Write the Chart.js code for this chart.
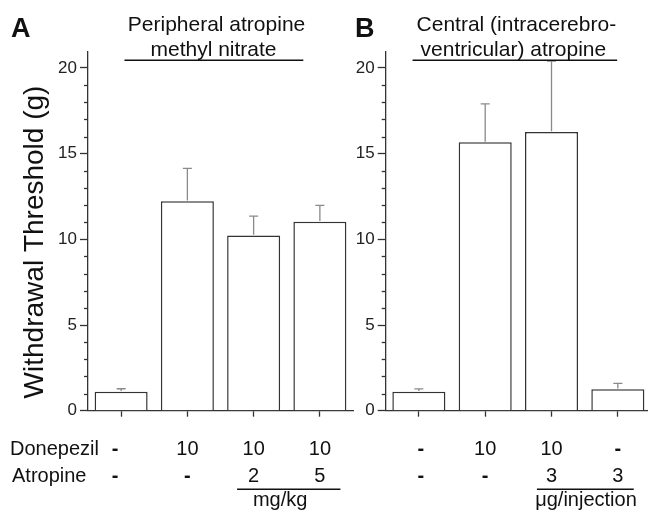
<!DOCTYPE html>
<html><head><meta charset="utf-8">
<script src="https://cdn.jsdelivr.net/npm/chart.js@4"></script>
<style>
html,body{margin:0;padding:0;background:#fff;overflow:hidden;width:648px;height:510px;position:relative;}
canvas{position:absolute;left:0;top:0;}
</style></head><body>
<canvas id="chartA" width="648" height="510"></canvas>
<canvas id="chartB" width="660" height="510"></canvas>
<script>
// ---- data ----
const categoriesA = ['Vehicle', 'Donepezil 10', 'Donepezil 10 + Atropine 2', 'Donepezil 10 + Atropine 5'];
const meansA = [1.11, 12.23, 10.23, 11.03];
const errorsA = [0.17, 1.91, 1.13, 0.95];
const donepezilA = ['-', '10', '10', '10'];
const atropineA = ['-', '-', '2', '5'];

const categoriesB = ['Vehicle', 'Donepezil 10', 'Donepezil 10 + Atropine 3', 'Atropine 3'];
const meansB = [1.11, 15.66, 16.26, 1.25];
const errorsB = [0.16, 2.25, 4.14, 0.35];
const donepezilB = ['-', '10', '10', '-'];
const atropineB = ['-', '-', '3', '3'];

const yMajorTicks = [0, 5, 10, 15, 20];
const yMax = 20.95;
const yTitle = 'Withdrawal Threshold (g)';
const rowNames = ['Donepezil', 'Atropine'];
const titleA = ['Peripheral atropine', 'methyl nitrate'];
const titleB = ['Central (intracerebro-', 'ventricular) atropine'];
const unitA = 'mg/kg';
const unitB = '\u03bcg/injection';

// ---- drawing ----
Chart.defaults.devicePixelRatio = 1;
const FONT = "'Liberation Sans', Arial, Helvetica, sans-serif";
const AXIS = '#333';

const panelPlugin = {
  id: 'panel',
  afterDatasetsDraw(chart, args, o) {
    const ctx = chart.ctx, y = chart.scales.y;
    const meta = chart.getDatasetMeta(0);
    const vals = chart.data.datasets[0].data;
    ctx.save();
    ctx.strokeStyle = '#8a8a8a';
    ctx.lineWidth = 1.3;
    meta.data.forEach((bar, i) => {
      const yTop = y.getPixelForValue(vals[i]);
      const yErr = y.getPixelForValue(vals[i] + o.errors[i]);
      ctx.beginPath();
      ctx.moveTo(bar.x, yTop - 0.7); ctx.lineTo(bar.x, yErr);
      ctx.moveTo(bar.x - 4.5, yErr); ctx.lineTo(bar.x + 4.5, yErr);
      ctx.stroke();
    });
    ctx.restore();
  },
  afterDraw(chart, args, o) {
    const ctx = chart.ctx, x = chart.scales.x, y = chart.scales.y, ca = chart.chartArea;
    ctx.save();
    // minor y ticks
    ctx.strokeStyle = AXIS; ctx.lineWidth = 1.3;
    y.ticks.forEach(t => {
      if (!yMajorTicks.includes(t.value)) {
        const py = Math.round(y.getPixelForValue(t.value)) + 0.5;
        ctx.beginPath(); ctx.moveTo(ca.left - 4, py); ctx.lineTo(ca.left, py); ctx.stroke();
      }
    });
    ctx.fillStyle = '#111';
    ctx.textBaseline = 'alphabetic';
    // panel letter
    ctx.font = 'bold 27px ' + FONT;
    ctx.textAlign = 'left';
    ctx.fillText(o.letter, o.letterX, 37);
    // title
    ctx.font = '21px ' + FONT;
    ctx.textAlign = 'center';
    const tc = x.getPixelForValue(o.titleCenter);
    ctx.fillText(o.title[0], tc, ca.top - 21);
    ctx.fillText(o.title[1], tc - 3, ca.top + 3.8);
    ctx.lineWidth = 1.6; ctx.strokeStyle = '#111';
    ctx.beginPath();
    ctx.moveTo(x.getPixelForValue(o.titleLine[0]), ca.top + 8.5);
    ctx.lineTo(x.getPixelForValue(o.titleLine[1]), ca.top + 8.5);
    ctx.stroke();
    // row labels
    const rowY = [ca.bottom + 44.5, ca.bottom + 71];
    if (o.rowNames) {
      ctx.font = '20px ' + FONT;
      ctx.textAlign = 'left';
      ctx.fillText(rowNames[0], 10, rowY[0]);
      ctx.fillText(rowNames[1], 12, rowY[1]);
    }
    ctx.textAlign = 'center';
    [o.row1, o.row2].forEach((row, r) => {
      row.forEach((lab, i) => {
        const px = x.getPixelForValue(i) + (o.shifts[i] || 0);
        ctx.font = (lab === '-' ? 'bold ' : '') + '20px ' + FONT;
        ctx.fillText(lab, px, rowY[r]);
      });
    });
    // unit underline and text
    ctx.lineWidth = 1.4;
    ctx.beginPath();
    ctx.moveTo(x.getPixelForValue(o.unitLine[0]), ca.bottom + 78.5);
    ctx.lineTo(x.getPixelForValue(o.unitLine[1]), ca.bottom + 78.5);
    ctx.stroke();
    ctx.font = '20px ' + FONT;
    ctx.fillText(o.unit, x.getPixelForValue(o.unitCenter), ca.bottom + 95.5);
    // y title
    if (o.yTitle) {
      ctx.save();
      ctx.translate(43, 242);
      ctx.rotate(-Math.PI / 2);
      ctx.font = '28px ' + FONT;
      ctx.textAlign = 'center';
      ctx.fillText(yTitle, 0, 0);
      ctx.restore();
    }
    ctx.restore();
  }
};

function makeChart(id, cats, means, padLeft, padRight, panelOpts) {
  return new Chart(document.getElementById(id), {
    type: 'bar',
    data: {
      labels: cats,
      datasets: [{
        data: means,
        backgroundColor: '#ffffff',
        borderColor: AXIS,
        borderWidth: 1.5,
        categoryPercentage: 1.0,
        barPercentage: 0.8
      }]
    },
    options: {
      responsive: false,
      animation: false,
      devicePixelRatio: 1,
      layout: { padding: { left: padLeft, right: padRight, top: 51.7, bottom: 0 } },
      plugins: { legend: { display: false }, tooltip: { enabled: false }, title: { display: false }, panel: panelOpts },
      scales: {
        x: {
          offset: true,
          grid: { offset: false, drawOnChartArea: false, drawTicks: true, tickLength: 6, tickColor: AXIS, tickWidth: 1.3 },
          border: { color: AXIS, width: 1.3 },
          ticks: { display: false },
          afterFit: s => { s.height = 510 - 410.7; }
        },
        y: {
          min: 0, max: yMax,
          grid: {
            drawOnChartArea: false, drawTicks: true, tickLength: 8, tickWidth: 1.3,
            tickColor: c => yMajorTicks.includes(c.tick.value) ? AXIS : 'rgba(0,0,0,0)'
          },
          border: { color: AXIS, width: 1.3 },
          ticks: {
            stepSize: 1, includeBounds: false, maxTicksLimit: 40, autoSkip: false, padding: 3, color: '#222',
            font: { family: FONT, size: 17 },
            callback: v => yMajorTicks.includes(v) ? String(v) : ''
          },
          afterFit: s => { s.width = 88; }
        }
      }
    },
    plugins: [panelPlugin]
  });
}

makeChart('chartA', categoriesA, meansA, 0, 648 - 353, {
  errors: errorsA, letter: 'A', letterX: 11, title: titleA, titleCenter: 1.44, titleLine: [0.05, 2.75],
  rowNames: true, row1: donepezilA, row2: atropineA, shifts: [-6, 0, 0, 0],
  unit: unitA, unitLine: [1.75, 3.31], unitCenter: 2.40, yTitle: true
});
makeChart('chartB', categoriesB, meansB, 385.7 - 88, 660 - 651, {
  errors: errorsB, letter: 'B', letterX: 355, title: titleB, titleCenter: 1.47, titleLine: [-0.095, 2.99],
  rowNames: false, row1: donepezilB, row2: atropineB, shifts: [2, 0, 0, 0],
  unit: unitB, unitLine: [1.78, 3.24], unitCenter: 2.52, yTitle: false
});
</script>
</body></html>
